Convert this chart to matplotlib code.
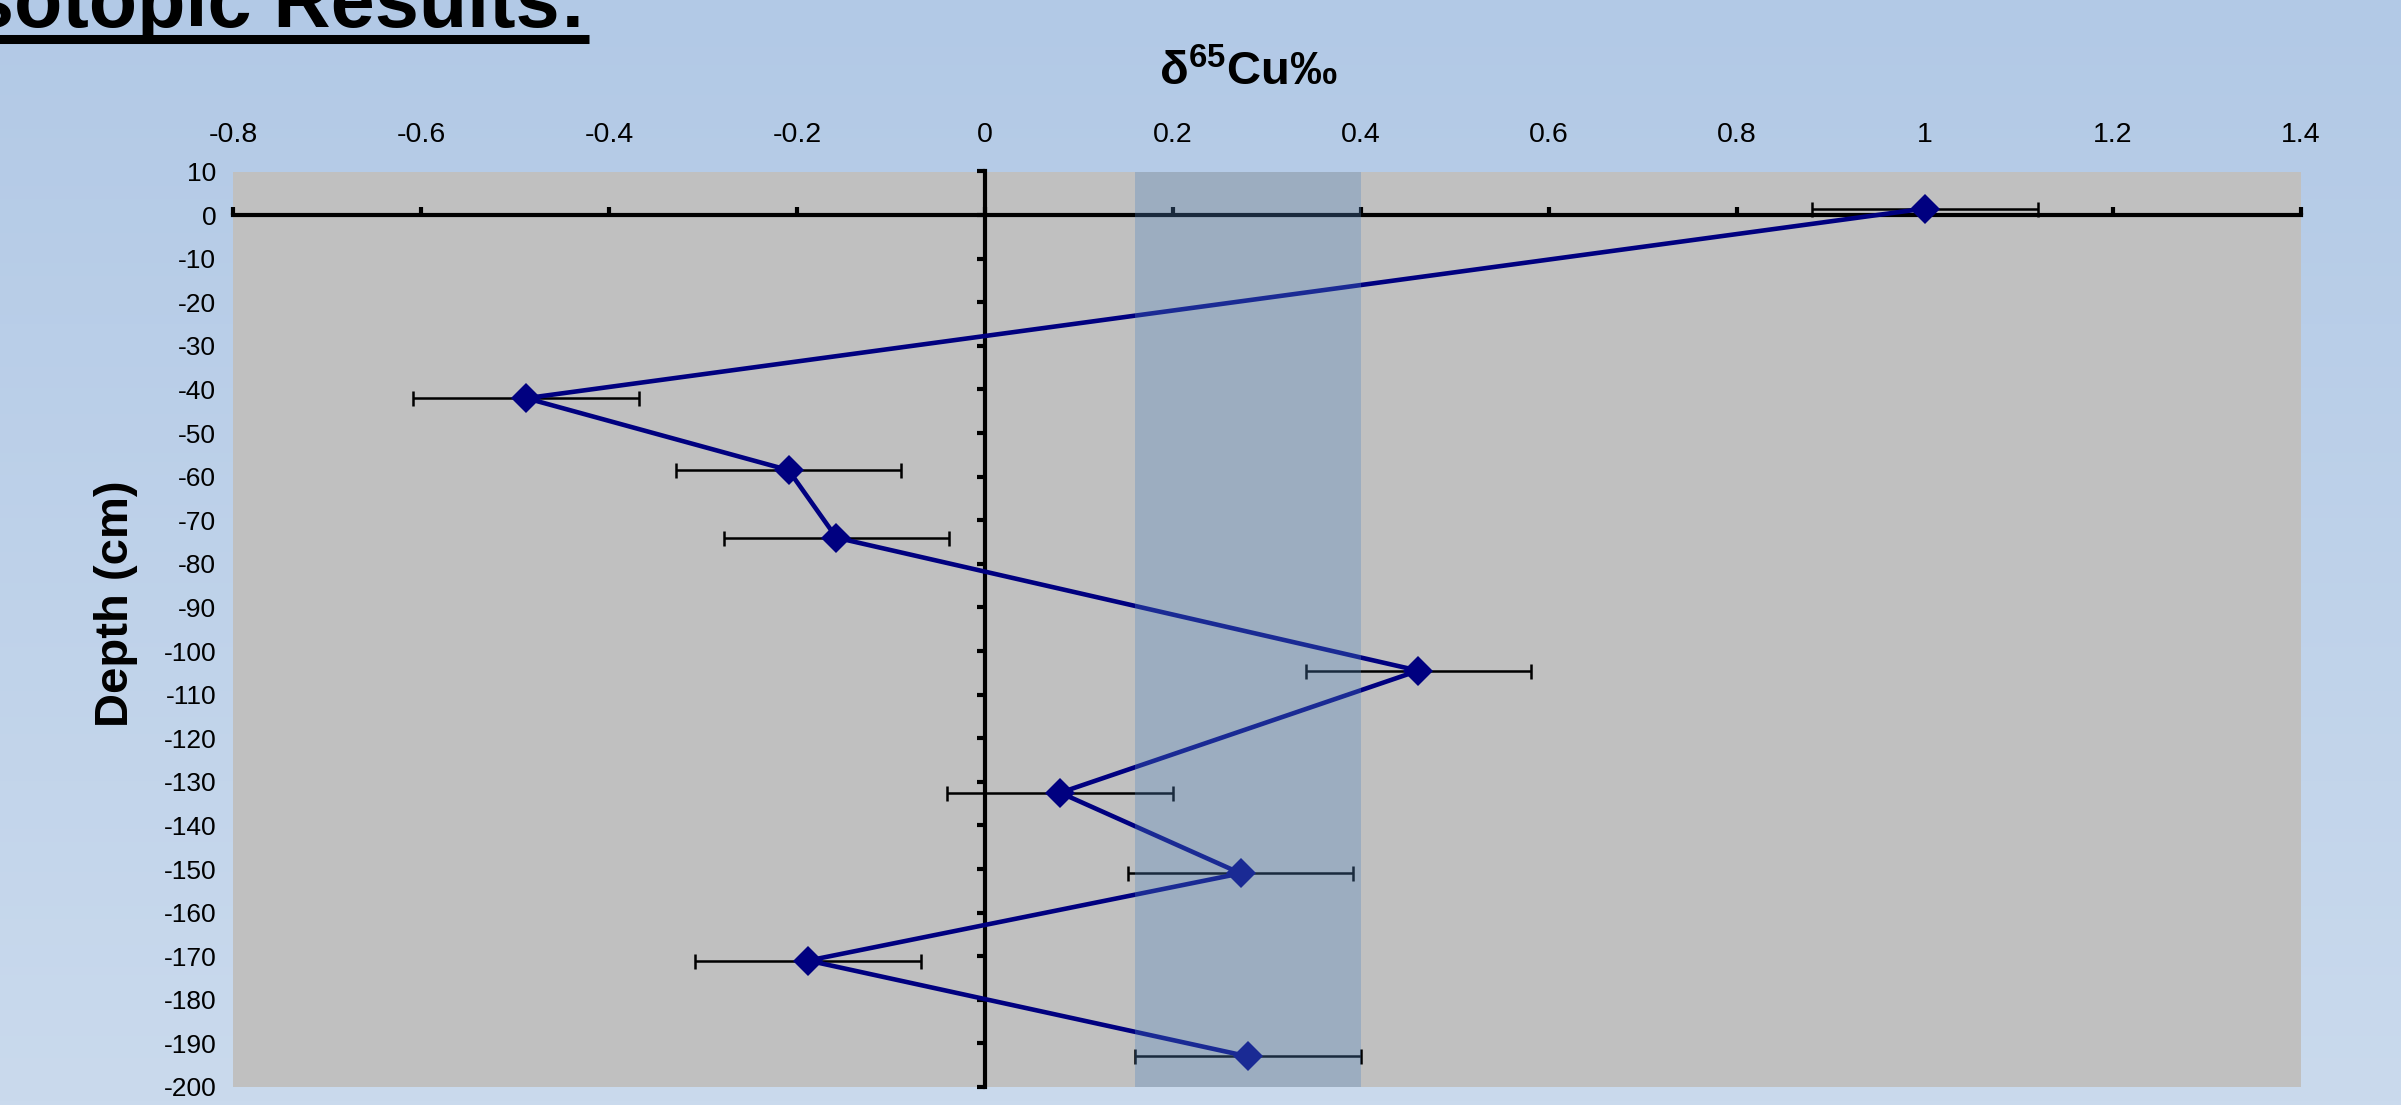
import numpy as np
import matplotlib
matplotlib.use("Agg")
import matplotlib.pyplot as plt
from matplotlib.lines import Line2D

plt.rcParams['font.family'] = ['Liberation Sans', 'DejaVu Sans']
plt.rcParams['axes.unicode_minus'] = False
plt.rcParams['mathtext.fontset'] = 'custom'
plt.rcParams['mathtext.bf'] = 'Liberation Sans:bold'
plt.rcParams['mathtext.rm'] = 'Liberation Sans:bold'

# ── core profile: delta65Cu vs depth ──
depth_cm = [1.5, -42, -58.5, -74, -104.5, -132.5, -151, -171, -193]
d65cu = [1.00, -0.488, -0.209, -0.158, 0.461, 0.080, 0.272, -0.188, 0.280]
d65cu_err = [0.12, 0.12, 0.12, 0.12, 0.12, 0.12, 0.12, 0.12, 0.12]

# reference range band
band_lo, band_hi = 0.16, 0.40

x_ticks = [-0.8, -0.6, -0.4, -0.2, 0, 0.2, 0.4, 0.6, 0.8, 1.0, 1.2, 1.4]
x_labels = ['-0.8', '-0.6', '-0.4', '-0.2', '0', '0.2', '0.4', '0.6', '0.8', '1', '1.2', '1.4']
y_ticks = list(range(-200, 11, 10))

W, H = 2401, 1105
fig = plt.figure(figsize=(W / 100, H / 100), dpi=100)

# blue gradient slide background
bg = fig.add_axes([0, 0, 1, 1])
grad = np.linspace(0, 1, 256)[:, None]
top_c = np.array([178, 201, 230]) / 255
bot_c = np.array([202, 218, 237]) / 255
img = top_c[None, None, :] * (1 - grad[:, :, None]) + bot_c[None, None, :] * grad[:, :, None]
bg.imshow(img, aspect='auto', extent=[0, 1, 0, 1])
bg.set_axis_off()

# slide heading (partly off the top edge)
fig.text(-52 / W, 1 - 27 / H, 'Isotopic Results:', fontsize=57, fontweight='bold',
         ha='left', va='baseline', color='black')
fig.add_artist(Line2D([-52 / W, 589 / W], [1 - 39 / H, 1 - 39 / H],
                      transform=fig.transFigure, color='black', lw=6.5,
                      solid_capstyle='butt'))

# plot area
L, R, T, B = 233, 2301, 171.5, 1087
ax = fig.add_axes([L / W, 1 - B / H, (R - L) / W, (B - T) / H])
ax.set_facecolor('#C0C0C0')
ax.set_xlim(-0.8, 1.4)
ax.set_ylim(-200, 10)

# axes crossing at the origin
for s in ['top', 'right']:
    ax.spines[s].set_visible(False)
ax.spines['bottom'].set_position(('data', 0))
ax.spines['left'].set_position(('data', 0))
ax.spines['bottom'].set_linewidth(3)
ax.spines['left'].set_linewidth(3)
ax.set_xticks(x_ticks)
ax.set_yticks(y_ticks)
ax.tick_params(axis='x', direction='in', length=6, width=3, labelbottom=False)
ax.tick_params(axis='y', direction='out', length=6, width=3, labelleft=False)

# labels along the outer edges
sx = ax.secondary_xaxis('top')
sx.set_xticks(x_ticks, x_labels)
sx.tick_params(length=0, pad=17, labelsize=20.5)
sx.spines['top'].set_visible(False)

sy = ax.secondary_yaxis('left')
sy.set_yticks(y_ticks, [str(v) for v in y_ticks])
sy.tick_params(length=0, pad=12, labelsize=19)
sy.spines['left'].set_visible(False)

# data series
ax.errorbar(d65cu, depth_cm, xerr=d65cu_err, fmt='none', ecolor='black',
            elinewidth=1.8, capsize=5.4, capthick=1.8, zorder=3)
ax.plot(d65cu, depth_cm, color='#000080', lw=3.3, zorder=4)
ax.plot(d65cu, depth_cm, ls='none', marker='D', ms=15, color='#000080',
        markeredgewidth=0, zorder=5)

# shaded band over everything
ax.axvspan(band_lo, band_hi, color='#5185C0', alpha=0.32, lw=0, zorder=6)

fig.text(1248 / W, 1 - 85 / H, r'$\mathbf{\delta^{65}Cu}$‰', fontsize=34,
         fontweight='bold', ha='center', va='baseline')
ax.text((116 - L) / (R - L), 1 - (604 - T) / (B - T), 'Depth (cm)',
        transform=ax.transAxes, rotation=90, fontsize=34, fontweight='bold',
        ha='center', va='center')

fig.savefig('out.png', dpi=100)
